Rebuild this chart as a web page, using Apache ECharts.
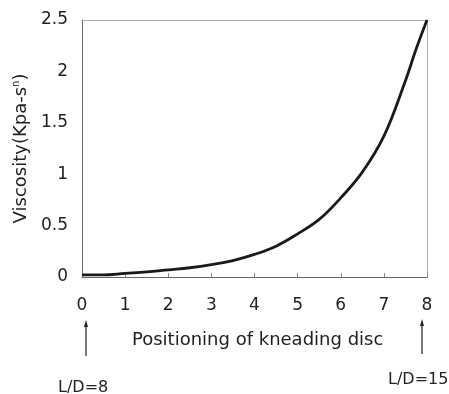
<!DOCTYPE html>
<html><head><meta charset="utf-8">
<script src="https://cdn.jsdelivr.net/npm/echarts@6/dist/echarts.min.js"></script>
<style>html,body{margin:0;padding:0;background:#fff}#c{width:449px;height:394px}</style>
</head><body><div id="c"></div>
<script>
const xPositions = [0, 0.5, 1, 1.5, 2, 2.5, 3, 3.5, 4, 4.5, 5, 5.5, 6, 6.5, 7, 7.5, 7.75, 8];
const viscosity = [0.02, 0.02, 0.035, 0.05, 0.07, 0.09, 0.12, 0.16, 0.22, 0.30, 0.42, 0.56, 0.77, 1.02, 1.37, 1.91, 2.22, 2.5];
const yTicks = [0, 0.5, 1, 1.5, 2, 2.5];
const xTicks = [0, 1, 2, 3, 4, 5, 6, 7, 8];
const xTitle = 'Positioning of kneading disc';
const leftNote = 'L/D=8';
const rightNote = 'L/D=15';

const chart = echarts.init(document.getElementById('c'));
const F = '"DejaVu Sans", Verdana, sans-serif';
const txt = '#222';
chart.setOption({
  animation: false,
  grid: {left: 82, right: 22, top: 20, bottom: 117},
  xAxis: [{
    type: 'value', min: 0, max: 8, interval: 1,
    axisLine: {show: true, onZero: false, lineStyle: {color: '#666', width: 1}},
    axisTick: {show: true, inside: true, length: 4, lineStyle: {color: '#888'}},
    axisLabel: {color: txt, fontSize: 17, fontFamily: F, margin: 20,
      formatter: v => xTicks.includes(v) ? String(v) : ''},
    splitLine: {show: false}
  }, {
    type: 'value', position: 'top', min: 0, max: 8,
    axisLine: {show: true, onZero: false, lineStyle: {color: '#999', type: 'dotted', width: 1}},
    axisTick: {show: false}, axisLabel: {show: false}, splitLine: {show: false}
  }],
  yAxis: [{
    type: 'value', min: 0, max: 2.5, interval: 0.5,
    axisLine: {show: true, onZero: false, lineStyle: {color: '#666', width: 1}},
    axisTick: {show: false},
    axisLabel: {color: txt, fontSize: 17, fontFamily: F, margin: 14,
      formatter: v => yTicks.includes(v) ? String(v) : ''},
    splitLine: {show: false},
    name: 'Viscosity(Kpa-s{sup|n})',
    nameLocation: 'middle', nameGap: 47, nameRotate: 90,
    nameTextStyle: {color: txt, fontSize: 18, fontFamily: F,
      rich: {sup: {fontSize: 10, fontFamily: F, color: txt, verticalAlign: 'top', padding: [0, 0, 9, 0]}}}
  }, {
    type: 'value', position: 'right', min: 0, max: 2.5,
    axisLine: {show: true, onZero: false, lineStyle: {color: '#999', type: 'dotted', width: 1}},
    axisTick: {show: false}, axisLabel: {show: false}, splitLine: {show: false}
  }],
  series: [{
    type: 'line', smooth: 0.4, showSymbol: false,
    data: xPositions.map((x, i) => [x, viscosity[i]]),
    lineStyle: {color: '#1a1a1a', width: 2.8}
  }],
  graphic: [
    {type: 'text', left: 132, top: 331, style: {text: xTitle, fill: txt, font: '18px ' + F}},
    {type: 'line', shape: {x1: 86, y1: 324, x2: 86, y2: 356}, style: {stroke: '#222', lineWidth: 1.2}},
    {type: 'polygon', shape: {points: [[86, 320], [84, 327], [88, 327]]}, style: {fill: '#222'}},
    {type: 'line', shape: {x1: 422, y1: 323, x2: 422, y2: 354}, style: {stroke: '#222', lineWidth: 1.2}},
    {type: 'polygon', shape: {points: [[422, 319], [420, 326], [424, 326]]}, style: {fill: '#222'}},
    {type: 'text', left: 58, top: 380, style: {text: leftNote, fill: txt, font: '16px ' + F}},
    {type: 'text', left: 388, top: 372, style: {text: rightNote, fill: txt, font: '16px ' + F}}
  ]
});
</script></body></html>
